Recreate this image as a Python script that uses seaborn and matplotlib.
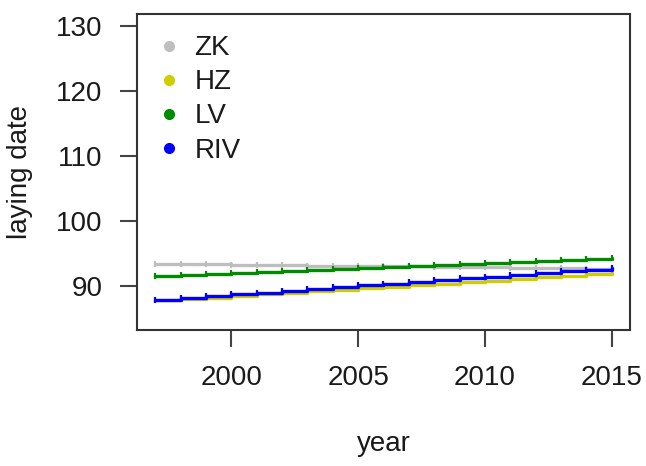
import matplotlib
matplotlib.use("Agg")
import matplotlib.pyplot as plt
from matplotlib.lines import Line2D
import numpy as np
import pandas as pd
import seaborn as sns

# Yearly laying-date trend per population
years = list(range(1997, 2016))
ZK = [93.4, 93.35, 93.3, 93.25, 93.2, 93.15, 93.1, 93.1, 93.05, 93.0,
      93.0, 92.95, 92.9, 92.85, 92.8, 92.75, 92.7, 92.65, 92.6]
HZ = [87.75, 88.0, 88.2, 88.45, 88.7, 88.9, 89.15, 89.4, 89.6, 89.85,
      90.1, 90.35, 90.55, 90.8, 91.05, 91.3, 91.5, 91.75, 92.0]
LV = [91.5, 91.65, 91.8, 91.95, 92.1, 92.25, 92.4, 92.55, 92.7, 92.85,
      93.0, 93.15, 93.3, 93.45, 93.6, 93.75, 93.9, 94.05, 94.2]
RIV = [87.85, 88.1, 88.4, 88.7, 88.95, 89.2, 89.5, 89.8, 90.05, 90.3,
       90.6, 90.9, 91.15, 91.4, 91.7, 91.95, 92.25, 92.5, 92.8]

populations = ["ZK", "HZ", "LV", "RIV"]
colors = {"ZK": "#BEBEBE", "HZ": "#CDCD00", "LV": "#008B00", "RIV": "#0000FF"}

df = pd.DataFrame({
    "year": years * 4,
    "laying date": ZK + HZ + LV + RIV,
    "population": [p for p in populations for _ in years],
})

sns.set_style("white")
plt.rcParams["font.family"] = ["Liberation Sans", "DejaVu Sans"]
plt.rcParams["text.color"] = "#1a1a1a"

fig = plt.figure(figsize=(6.46, 4.66), dpi=100)
ax = fig.add_axes([0.2121, 0.2918, 0.7631, 0.6782])

for p in populations:
    sub = df[df["population"] == p]
    sns.lineplot(data=sub, x="year", y="laying date", ax=ax,
                 color=colors[p], linewidth=2.4, drawstyle="steps-post",
                 marker="|", markersize=5, markeredgewidth=1.6,
                 markeredgecolor=colors[p], markerfacecolor=colors[p],
                 estimator=None, legend=False)

ax.set_xlim(1996.28, 2015.72)
ax.set_ylim(83.2, 131.8)
ax.set_xticks([2000, 2005, 2010, 2015])
ax.set_yticks([90, 100, 110, 120, 130])

for s in ax.spines.values():
    s.set_visible(True)
    s.set_color("#333333")
    s.set_linewidth(1.5)

ax.tick_params(axis="both", direction="out", length=12, width=1.5,
               color="#444444", labelsize=20, labelcolor="#1a1a1a", pad=13,
               left=True, bottom=True)

ax.set_xlabel("year", fontsize=20, color="#1a1a1a")
ax.set_ylabel("laying date", fontsize=20, color="#1a1a1a")
ax.xaxis.set_label_coords(0.5, -0.32)
ax.yaxis.set_label_coords(-0.211, 0.5)

handles = [Line2D([], [], linestyle="none", marker="o", markersize=7,
                  color=colors[p]) for p in populations]
ax.legend(handles, populations, loc="upper left", frameon=False,
          fontsize=20, handlelength=0.6, handletextpad=0.6,
          labelspacing=0.29, borderaxespad=0.2,
          bbox_to_anchor=(0.015, 0.985))

fig.savefig("out.png", dpi=100)
